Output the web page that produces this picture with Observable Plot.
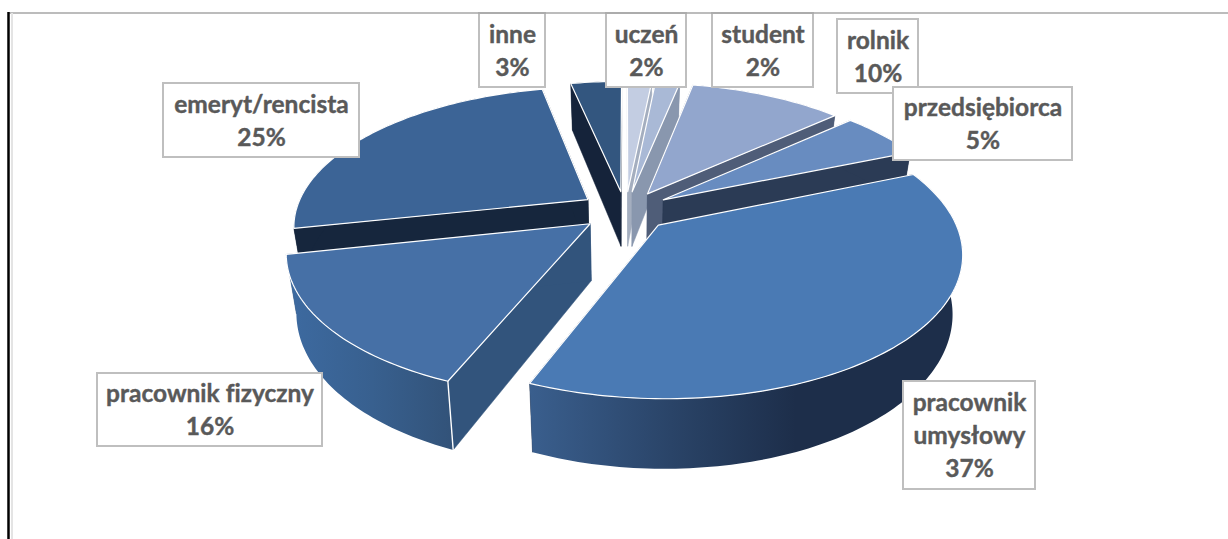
<!DOCTYPE html>
<html><head><meta charset="utf-8">
<script src="https://cdn.jsdelivr.net/npm/d3@7"></script>
<script src="https://cdn.jsdelivr.net/npm/@observablehq/plot@0.6"></script>
<style>html,body{margin:0;padding:0;background:#fff;overflow:hidden}svg{display:block}svg text{font-variant-ligatures:none}</style>
</head><body><div id="chart"></div>
<script>
const categories = ["uczeń","student","rolnik","przedsiębiorca","pracownik umysłowy","pracownik fizyczny","emeryt/rencista","inne"];
// shares; the labels show them rounded
const values = [1.6,1.6,10.1,5.45,37.4,15.5,25,3.35];
const labelLines = ["uczeń\n2%","student\n2%","rolnik\n10%","przedsiębiorca\n5%","pracownik\numysłowy\n37%","pracownik fizyczny\n16%","emeryt/rencista\n25%","inne\n3%"];

const topColors = ["#c3cde2","#a9b9d6","#92a6cd","#688cc0","#4a7ab4","#4670a6","#3c6496","#33567f"];
const wallColors = ["#a4aebf","#8997ae","#4f5d78","#2b3b55","#1d2e4a","#32547c","#16263d","#15233a"];
const drawOrder = [7,0,1,2,3,6,5,4];

// label box layout (pixels of the photographed page): left, right, top, bottom
const boxes = [
  [606,686,13,87],[712,813,13,87],[837,918,19,93],[893,1072,87,160],
  [903,1035,381,489],[97,322,373,446],[163,359,83,157],[479,545,13,87]
];

// pie view
const view = {cx:625, cy:209, B:292, A:136, k:0.18, T:56, ex:0.155, eyFront:0.16, eyBack:0.135};
function project(u,v,z=0){
  const w = 1 - view.k*v;
  const x = view.cx + (view.B*u/w)*(1-0.03*z);
  const y = view.cy + view.A*v/w + z*view.T/w;
  return {x,y};
}
const total = d3.sum(values);
const cum = d3.cumsum(values);
const rad = d => d/total*2*Math.PI;
const slices = values.map((d,i)=>{
  const a0 = rad(cum[i]-d), a1 = rad(cum[i]), m=(a0+a1)/2, c=Math.cos(m);
  return {a0,a1,ox:view.ex*Math.sin(m),oy:-c*(c<0?view.eyFront:view.eyBack)};
});
const disc = (s,a,r,z) => project(s.ox+r*Math.sin(a), s.oy-r*Math.cos(a), z);
function arc(s,a0,a1,z){
  const n=Math.max(2,Math.ceil(Math.abs(a1-a0)/0.02));
  return d3.range(n+1).map(t=>disc(s,a0+(a1-a0)*t/n,1,z));
}
const poly = (pts,fill,stroke,strokeWidth=1)=>Plot.line([...pts,pts[0]],{x:"x",y:"y",fill,stroke,strokeWidth,curve:"linear",strokeLinejoin:"round"});

const rimFill = ["#a4aebf","#8997ae","#4f5d78","#2b3b55","url(#gUm)","url(#gFiz)","#16263d","#15233a"];
const marks = [];
function gradient(id,x1,x2,stops){
  const sel=d3.create("svg:linearGradient").attr("id",id).attr("gradientUnits","userSpaceOnUse")
    .attr("x1",x1).attr("x2",x2).attr("y1",0).attr("y2",0);
  stops.forEach(([o,c])=>sel.append("svg:stop").attr("offset",o).attr("stop-color",c));
  return sel.node();
}
marks.push(()=>{
  const defs=d3.create("svg:defs").node();
  defs.append(gradient("gUm",527,960,[[0,"#3a5f8e"],[0.33,"#2a4468"],[0.62,"#1d2e4a"],[1,"#1d2e4a"]]));
  defs.append(gradient("gFiz",288,455,[[0,"#3d6aa0"],[0.5,"#38608f"],[1,"#325278"]]));
  return defs;
});
drawOrder.forEach(i=>{
  const s=slices[i];
  const ap=disc(s,0,0,0), apB=disc(s,0,0,1);
  const r0=disc(s,s.a0,1,0), r0B=disc(s,s.a0,1,1);
  const r1=disc(s,s.a1,1,0), r1B=disc(s,s.a1,1,1);
  marks.push(poly([ap,r0,r0B,apB],wallColors[i],wallColors[i],0.5));
  marks.push(poly([ap,r1,r1B,apB],wallColors[i],wallColors[i],0.5));
  const top=arc(s,s.a0,s.a1,0), bot=arc(s,s.a0,s.a1,1).reverse();
  marks.push(poly([...top,...bot],rimFill[i],"none",0));
  if(i===5) marks.push(Plot.line([r0,r0B],{x:"x",y:"y",stroke:"#fff",strokeWidth:1.4}));
  marks.push(poly([ap,...top],topColors[i],"#fff",1.2));
});

const labelBoxes = boxes.map(([l,r,t,b],i)=>({l,r,t,b,text:labelLines[i]}));
marks.push(
  Plot.rect(labelBoxes,{x1:"l",x2:"r",y1:"t",y2:"b",fill:"#fff",stroke:"#bfbfbf",strokeWidth:2}),
  Plot.text(labelBoxes,{x:d=>(d.l+d.r)/2,y:d=>(d.t+d.b)/2-2,text:"text",fill:"#595959",stroke:"#595959",strokeWidth:0.4,fontSize:24.5,fontWeight:700,fontFamily:"Lato",lineHeight:1.36,textAnchor:"middle"}),
  Plot.ruleY([12.5],{x1:9,x2:1228,stroke:"#a6a6a6",strokeWidth:1.5}),
  Plot.ruleX([11.5],{y1:13,y2:539,stroke:"#e4e4e4",strokeWidth:2}),
  Plot.ruleX([8],{y1:12,y2:539,stroke:"#000",strokeWidth:2.5})
);
const chart = Plot.plot({
  width:1228,height:539,margin:0,
  x:{domain:[0,1228],range:[0,1228],axis:null},
  y:{domain:[0,539],range:[0,539],axis:null},
  style:{background:"#fff"},
  marks
});
document.getElementById("chart").append(chart);
</script></body></html>
